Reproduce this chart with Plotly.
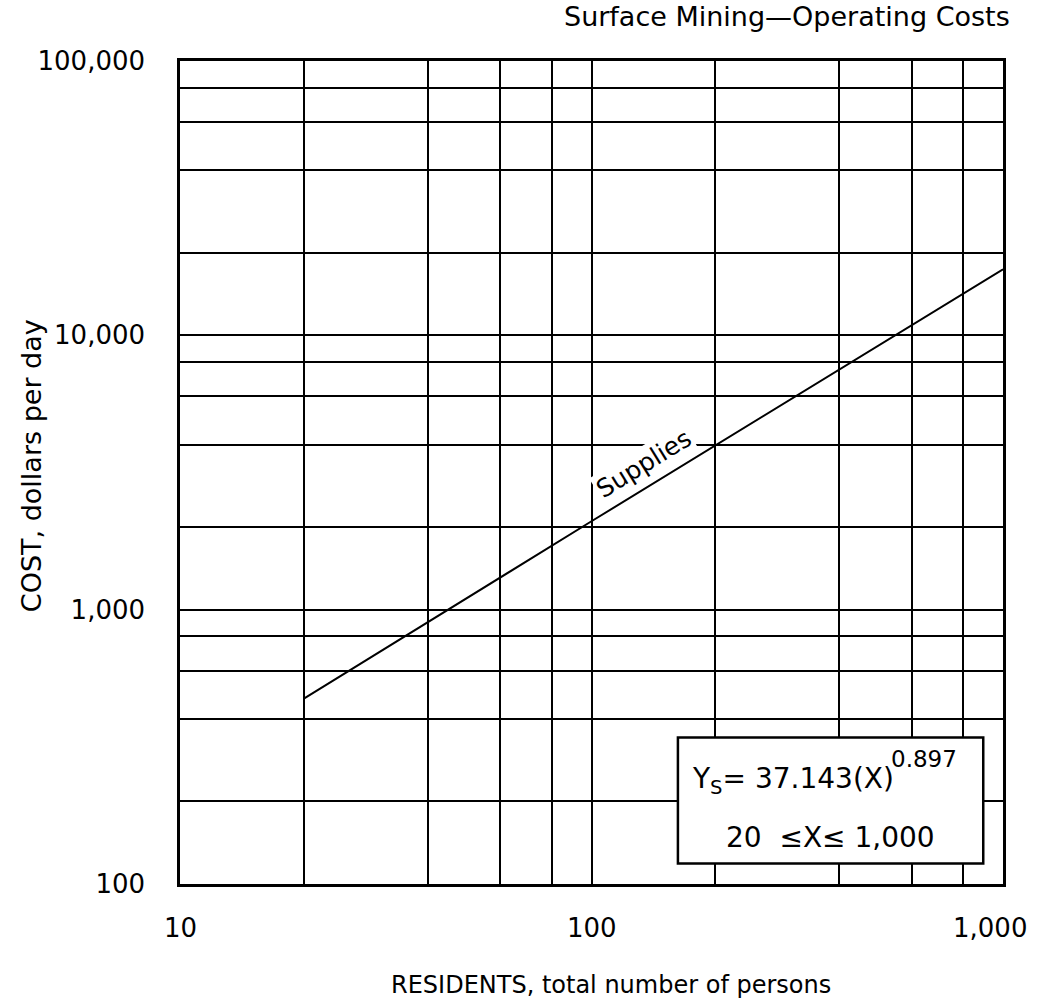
import math
import plotly.graph_objects as go

# Supplies cost line (log-log), residents vs. dollars per day
residents = [20, 100, 1000]
supplies_cost = [474, 2100, 17400]

# Grid positions and labelled ticks
x_grid = [10, 20, 40, 60, 80, 100, 200, 400, 600, 800, 1000]
x_tick_values = [10, 100, 1000]
x_tick_labels = ["10", "100", "1,000"]

y_grid = [100, 200, 400, 600, 800, 1000, 2000, 4000, 6000, 8000,
          10000, 20000, 40000, 60000, 80000, 100000]
y_tick_values = [100, 1000, 10000, 100000]
y_tick_labels = ["100", "1,000", "10,000", "100,000"]

chart_title = "Surface Mining\u2014Operating Costs"
x_title = "RESIDENTS, total number of persons"
y_title = "COST, dollars per day"
series_label = "Supplies"
equation_main = "Y<sub>S</sub>= 37.143(X)"
equation_power = "0.897"
equation_range = "20\u00a0\u00a0\u2264X\u2264\u00a01,000"

FONT = "DejaVu Sans"
INK = "black"

fig = go.Figure()
fig.add_trace(go.Scatter(
    x=residents, y=supplies_cost, mode="lines",
    line=dict(color=INK, width=2), showlegend=False, hoverinfo="skip",
))

y_text = [y_tick_labels[y_tick_values.index(v)] if v in y_tick_values else "" for v in y_grid]

fig.update_xaxes(
    type="log", range=[1, 3],
    tickvals=x_grid, showticklabels=False, ticks="",
    showgrid=True, gridcolor=INK, gridwidth=2,
    showline=True, linecolor=INK, linewidth=2.5, mirror=True,
)
fig.update_yaxes(
    type="log", range=[2, 5],
    tickvals=y_grid, ticktext=y_text, ticks="",
    ticklabelstandoff=27,
    tickfont=dict(family=FONT, size=26, color=INK),
    showgrid=True, gridcolor=INK, gridwidth=2,
    showline=True, linecolor=INK, linewidth=2.5, mirror=True,
)

annotations = []
# x tick labels
for i, (v, t) in enumerate(zip(x_tick_values, x_tick_labels)):
    annotations.append(dict(
        x=math.log10(v), xref="x", y=-0.0534, yref="paper",
        text=t, showarrow=False, xanchor="center", yanchor="middle",
        xshift=-13 if i == len(x_tick_values) - 1 else 0,
        font=dict(family=FONT, size=26, color=INK),
    ))

# titles
annotations.append(dict(
    x=1.011, y=1.054, xref="paper", yref="paper", text=chart_title,
    showarrow=False, xanchor="right", yanchor="middle",
    font=dict(family=FONT, size=27, color=INK),
))
annotations.append(dict(
    x=0.5237, y=-0.1227, xref="paper", yref="paper", text=x_title,
    showarrow=False, xanchor="center", yanchor="middle",
    font=dict(family=FONT, size=24, color=INK),
))
annotations.append(dict(
    x=-0.181, y=0.5077, xref="paper", yref="paper", text=y_title,
    showarrow=False, xanchor="center", yanchor="middle", textangle=-90,
    font=dict(family=FONT, size=27, color=INK),
))

# series label along the line
annotations.append(dict(
    x=2.128, y=3.532, xref="x", yref="y", text=series_label,
    showarrow=False, textangle=-31.6, bgcolor="white",
    font=dict(family=FONT, size=25, color=INK),
))

# equation box text
annotations.append(dict(
    x=0.6197, y=0.1263, xref="paper", yref="paper", text=equation_main,
    showarrow=False, xanchor="left", yanchor="middle",
    font=dict(family=FONT, size=28, color=INK),
))
annotations.append(dict(
    x=0.862, y=0.1518, xref="paper", yref="paper", text=equation_power,
    showarrow=False, xanchor="left", yanchor="middle",
    font=dict(family=FONT, size=23, color=INK),
))
annotations.append(dict(
    x=0.790, y=0.0571, xref="paper", yref="paper", text=equation_range,
    showarrow=False, xanchor="center", yanchor="middle",
    font=dict(family=FONT, size=28, color=INK),
))

shapes = [dict(
    type="rect", xref="paper", yref="paper",
    x0=0.605, x1=0.976, y0=0.025, y1=0.178,
    fillcolor="white", line=dict(color=INK, width=2.5), layer="above",
)]

fig.update_layout(
    width=1046, height=1006,
    margin=dict(l=180, r=43, t=61, b=122),
    paper_bgcolor="white", plot_bgcolor="white",
    font=dict(family=FONT, color=INK),
    annotations=annotations, shapes=shapes,
)

fig.write_html("out.html")
